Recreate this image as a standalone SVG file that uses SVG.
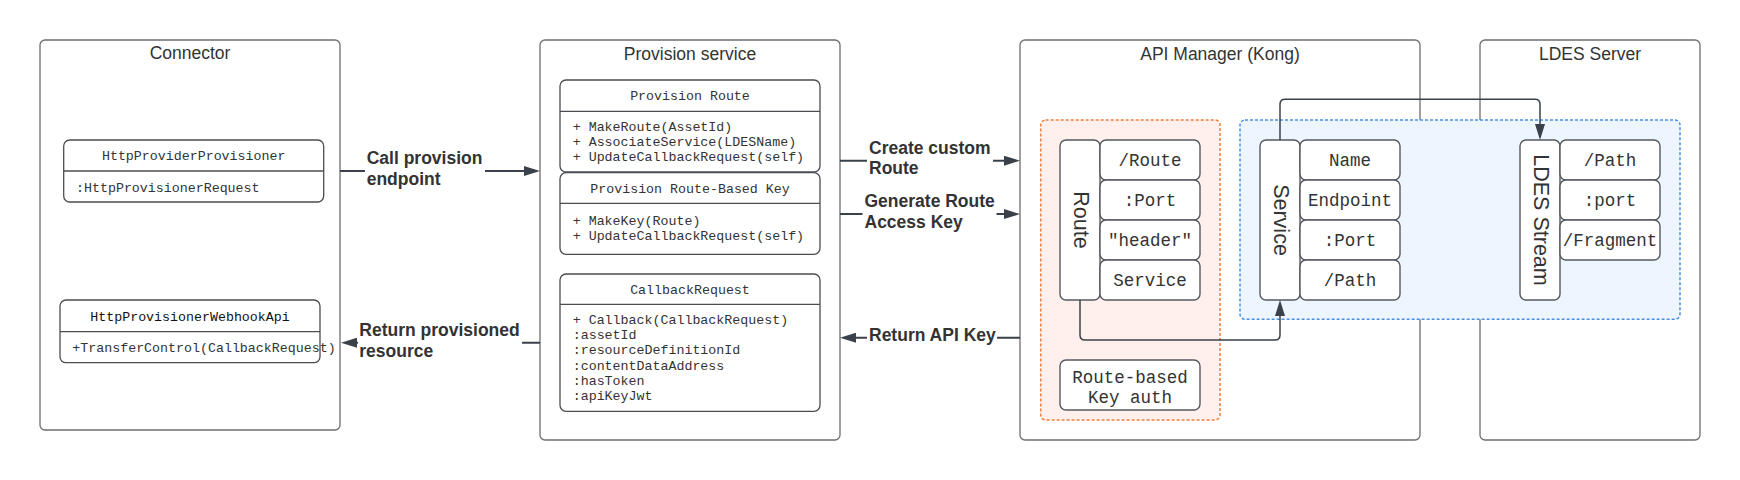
<svg xmlns="http://www.w3.org/2000/svg" width="1740" height="480" viewBox="0 0 1740 480">
<style>
.bg{fill:#ffffff}
.cont{fill:#ffffff;stroke:#6e6e6e;stroke-width:1.3}
.title{font-family:"Liberation Sans",Arial,sans-serif;font-size:17.5px;fill:#333333;text-anchor:middle}
.cls{fill:#ffffff;stroke:#4a4d52;stroke-width:1.3}
.div{stroke:#4a4d52;stroke-width:1.3}
.mono{font-family:"Liberation Mono","Courier New",monospace;font-size:13.3px;fill:#333333}
.hdr{text-anchor:middle}
.cell{fill:#ffffff;stroke:#55595e;stroke-width:1.4}
.ctext{font-family:"Liberation Mono","Courier New",monospace;font-size:17.5px;fill:#333333;text-anchor:middle}
.vtext{font-family:"Liberation Sans",Arial,sans-serif;font-size:21.5px;fill:#333333;text-anchor:middle}
.lbl{font-family:"Liberation Sans",Arial,sans-serif;font-size:17.5px;font-weight:bold;fill:#333333}
.edge{fill:none;stroke:#3a414a;stroke-width:2}
.iedge{fill:none;stroke:#3a414a;stroke-width:1.5}
.orange{fill:#fff0ee;stroke:#ef7d3c;stroke-width:1.5;stroke-dasharray:3 2}
.blue{fill:#edf5ff;stroke:#4a90e2;stroke-width:1.5;stroke-dasharray:3 2}
</style>
<defs>
<marker id="arr" markerUnits="userSpaceOnUse" markerWidth="16" markerHeight="10" refX="1" refY="5" orient="auto">
<path d="M0,0 L16,5 L0,10 z" fill="#3a414a"/>
</marker>
</defs>
<rect class="bg" x="0" y="0" width="1740" height="480"/>

<g id="connector">
<rect class="cont" x="40" y="40" width="300" height="390" rx="5"/>
<text class="title" x="190" y="59">Connector</text>
</g>
<g id="http-provider-provisioner">
<rect class="cls" x="63.7" y="140" width="260" height="62" rx="6"/>
<line class="div" x1="63.7" y1="171" x2="323.7" y2="171"/>
<text class="mono hdr" x="193.7" y="159.5">HttpProviderProvisioner</text>
<text class="mono" x="76" y="191.5">:HttpProvisionerRequest</text>
</g>
<g id="http-provisioner-webhook-api">
<rect class="cls" x="60" y="300" width="260" height="62.7" rx="6"/>
<line class="div" x1="60" y1="331.7" x2="320" y2="331.7"/>
<text class="mono hdr" x="190" y="320.5" style="fill:#111111">HttpProvisionerWebhookApi</text>
<text class="mono" x="72.3" y="351.8">+TransferControl(CallbackRequest)</text>
</g>

<g id="provision-service">
<rect class="cont" x="540" y="40" width="300" height="400" rx="5"/>
<text class="title" x="690" y="59.5">Provision service</text>
</g>
<g id="provision-route">
<rect class="cls" x="560" y="80" width="260" height="92" rx="6"/>
<line class="div" x1="560" y1="111.3" x2="820" y2="111.3"/>
<text class="mono hdr" x="690" y="100.2">Provision Route</text>
<text class="mono" x="572.7" y="130.8">+ MakeRoute(AssetId)</text>
<text class="mono" x="572.7" y="145.8">+ AssociateService(LDESName)</text>
<text class="mono" x="572.7" y="160.8">+ UpdateCallbackRequest(self)</text>
</g>
<g id="provision-route-based-key">
<rect class="cls" x="560" y="172.7" width="260" height="81.6" rx="6"/>
<line class="div" x1="560" y1="203.3" x2="820" y2="203.3"/>
<text class="mono hdr" x="690" y="192.5">Provision Route-Based Key</text>
<text class="mono" x="572.7" y="225.2">+ MakeKey(Route)</text>
<text class="mono" x="572.7" y="240.2">+ UpdateCallbackRequest(self)</text>
</g>
<g id="callback-request">
<rect class="cls" x="560" y="274" width="260" height="137.3" rx="6"/>
<line class="div" x1="560" y1="304.3" x2="820" y2="304.3"/>
<text class="mono hdr" x="690" y="293.5">CallbackRequest</text>
<text class="mono" x="572.7" y="324.2">+ Callback(CallbackRequest)</text>
<text class="mono" x="572.7" y="339.3">:assetId</text>
<text class="mono" x="572.7" y="354.4">:resourceDefinitionId</text>
<text class="mono" x="572.7" y="369.5">:contentDataAddress</text>
<text class="mono" x="572.7" y="384.6">:hasToken</text>
<text class="mono" x="572.7" y="399.7">:apiKeyJwt</text>
</g>

<g id="api-manager">
<rect class="cont" x="1020" y="40" width="400" height="400" rx="5"/>
<text class="title" x="1220" y="59.5">API Manager (Kong)</text>
</g>
<g id="ldes-server">
<rect class="cont" x="1480" y="40" width="220" height="400" rx="5"/>
<text class="title" x="1590" y="59.5">LDES Server</text>
</g>

<g id="route-group">
<rect class="orange" x="1040.7" y="120" width="179.3" height="300" rx="5"/>
</g>
<g id="service-group">
<rect class="blue" x="1240" y="120" width="440" height="199.3" rx="5"/>
</g>

<g id="route">
<rect class="cell" x="1060" y="140" width="40" height="160" rx="6"/>
<text class="vtext" transform="translate(1081,220) rotate(90)" x="0" y="7.5">Route</text>
<rect class="cell" x="1100" y="140" width="100" height="40" rx="6"/>
<rect class="cell" x="1100" y="180" width="100" height="40" rx="6"/>
<rect class="cell" x="1100" y="220" width="100" height="40" rx="6"/>
<rect class="cell" x="1100" y="260" width="100" height="40" rx="6"/>
<text class="ctext" x="1150" y="166">/Route</text>
<text class="ctext" x="1150" y="206">:Port</text>
<text class="ctext" x="1150" y="246">"header"</text>
<text class="ctext" x="1150" y="286">Service</text>
</g>
<g id="route-based-key-auth">
<rect class="cell" x="1060" y="360" width="140" height="50" rx="6"/>
<text class="ctext" x="1130" y="382.7">Route-based</text>
<text class="ctext" x="1130" y="402.7">Key auth</text>
</g>
<g id="service">
<rect class="cell" x="1260" y="140" width="40" height="160" rx="6"/>
<text class="vtext" transform="translate(1281,220) rotate(90)" x="0" y="7.5">Service</text>
<rect class="cell" x="1300" y="140" width="100" height="40" rx="6"/>
<rect class="cell" x="1300" y="180" width="100" height="40" rx="6"/>
<rect class="cell" x="1300" y="220" width="100" height="40" rx="6"/>
<rect class="cell" x="1300" y="260" width="100" height="40" rx="6"/>
<text class="ctext" x="1350" y="166">Name</text>
<text class="ctext" x="1350" y="206">Endpoint</text>
<text class="ctext" x="1350" y="246">:Port</text>
<text class="ctext" x="1350" y="286">/Path</text>
</g>
<g id="ldes-stream">
<rect class="cell" x="1520" y="140" width="40" height="160" rx="6"/>
<text class="vtext" transform="translate(1541,220) rotate(90)" x="0" y="7.5">LDES Stream</text>
<rect class="cell" x="1560" y="140" width="100" height="40" rx="6"/>
<rect class="cell" x="1560" y="180" width="100" height="40" rx="6"/>
<rect class="cell" x="1560" y="220" width="100" height="40" rx="6"/>
<text class="ctext" x="1610" y="166">/Path</text>
<text class="ctext" x="1610" y="206">:port</text>
<text class="ctext" x="1610" y="246">/Fragment</text>
</g>

<g id="connectors">
<path class="edge" d="M340,171 H525" marker-end="url(#arr)"/>
<path class="edge" d="M540,342.7 H356" marker-end="url(#arr)"/>
<path class="edge" d="M840,160.7 H1005" marker-end="url(#arr)"/>
<path class="edge" d="M840,214 H1005" marker-end="url(#arr)"/>
<path class="edge" d="M1020,337.7 H855" marker-end="url(#arr)"/>
<path class="iedge" d="M1080,300 V335 Q1080,340 1085,340 H1275 Q1280,340 1280,335 V315" marker-end="url(#arr)"/>
<path class="iedge" d="M1280,140 V104.3 Q1280,99.3 1285,99.3 H1535 Q1540,99.3 1540,104.3 V125" marker-end="url(#arr)"/>
<rect x="365" y="148" width="120" height="42" fill="#ffffff"/>
<text class="lbl" x="366.7" y="164.3">Call provision</text>
<text class="lbl" x="366.7" y="185">endpoint</text>
<rect x="358" y="320" width="164" height="42" fill="#ffffff"/>
<text class="lbl" x="359.3" y="335.7">Return provisioned</text>
<text class="lbl" x="359.3" y="356.7">resource</text>
<rect x="867" y="138" width="126" height="42" fill="#ffffff"/>
<text class="lbl" x="869" y="153.5">Create custom</text>
<text class="lbl" x="869" y="174">Route</text>
<rect x="862.5" y="191" width="134" height="42" fill="#ffffff"/>
<text class="lbl" x="864.5" y="206.7">Generate Route</text>
<text class="lbl" x="864.5" y="227.7">Access Key</text>
<rect x="867" y="325" width="130" height="22" fill="#ffffff"/>
<text class="lbl" x="869" y="341">Return API Key</text>
</g>
</svg>
